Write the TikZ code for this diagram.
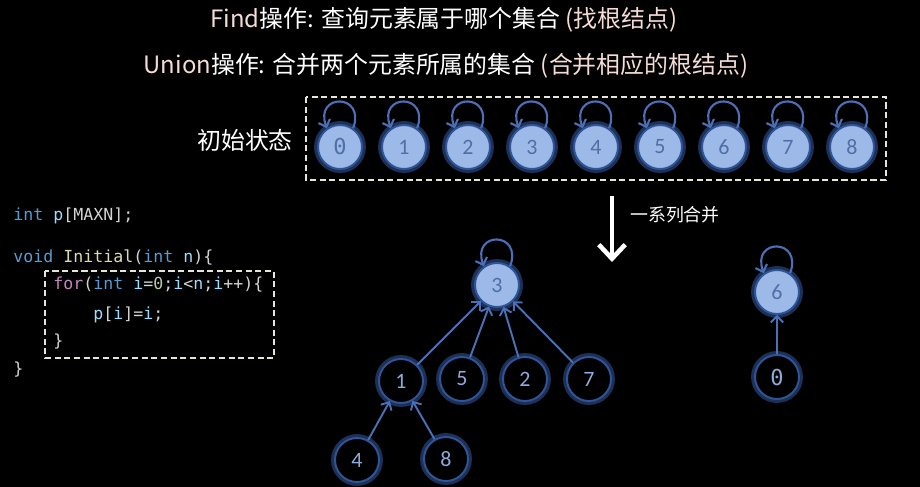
\documentclass[tikz,border=0pt]{standalone}
\usepackage{fontspec}
\setmainfont{Noto Sans CJK SC}
\newfontfamily\digitfont{Carlito}
\newfontfamily\codefont{DejaVu Sans Mono}
\usetikzlibrary{arrows.meta}

\definecolor{nodefill}{HTML}{9DB9E8}
\definecolor{nodeedge}{HTML}{2F5597}
\definecolor{glowblue}{HTML}{3F6BC4}
\definecolor{roottext}{HTML}{4F6FA6}
\definecolor{leaftext}{HTML}{8FAADC}
\definecolor{linkblue}{HTML}{4A70B8}
\definecolor{pinkish}{HTML}{F6DCD6}
\definecolor{boxcream}{HTML}{E6E6D8}
\definecolor{kwblue}{HTML}{569CD6}
\definecolor{varblue}{HTML}{9CDCFE}
\definecolor{fnyellow}{HTML}{DCDCAA}
\definecolor{ctlpink}{HTML}{C586C0}
\definecolor{numgreen}{HTML}{B5CEA8}
\definecolor{codegray}{HTML}{D4D4D4}

\newcommand\ckw[1]{\textcolor{kwblue}{#1}}
\newcommand\cvar[1]{\textcolor{varblue}{#1}}
\newcommand\cfn[1]{\textcolor{fnyellow}{#1}}
\newcommand\cctl[1]{\textcolor{ctlpink}{#1}}
\newcommand\cnum[1]{\textcolor{numgreen}{#1}}
\newcommand\dig[1]{\ifnum#1=0 {\codefont 0}\else #1\fi}

\tikzset{
	setnode/.style={circle, minimum size=0.88cm, inner sep=0pt, line width=1.1pt,
		draw=nodeedge, font=\digitfont\fontsize{12.5pt}{14pt}\selectfont,
		preaction={draw=glowblue, line width=4.5pt, opacity=0.45}},
	rootnode/.style={setnode, fill=nodefill, text=roottext},
	leafnode/.style={setnode, fill=black, text=leaftext},
	link/.style={->, draw=linkblue, line width=1.1pt},
	selfloop/.style={->, draw=linkblue, line width=1.2pt},
	dashbox/.style={draw=boxcream, line width=1.1pt, dash pattern=on 3.5pt off 2pt},
	codeline/.style={anchor=west, inner sep=0pt, text=codegray,
		font=\codefont\fontsize{9.45pt}{11pt}\selectfont},
}

\begin{document}
\begin{tikzpicture}[x=0.02cm, y=-0.02cm, >={Straight Barb[length=3.5pt,width=7pt]}]

	% background
	\fill[black] (0,0) rectangle (920,487);
	\useasboundingbox (0,0) rectangle (920,487);

	% titles
	\node[text=white, font=\fontsize{13.6pt}{16pt}\selectfont] (F) at (444,20)
	{\textcolor{pinkish}{Find}操作: 查询元素属于哪个集合 \textcolor{pinkish}{(找根结点)}};
	\node[text=white, font=\fontsize{13.6pt}{16pt}\selectfont] (U) at (446,66)
	{\textcolor{pinkish}{Union}操作: 合并两个元素所属的集合 \textcolor{pinkish}{(合并相应的根结点)}};

	% initial state
	\node[text=white, font=\fontsize{13.6pt}{16pt}\selectfont] (I) at (245,140) {初始状态};
	\draw[dashbox] (306,97) rectangle (886,180);
	\foreach \i in {0,...,8}{
		\node[rootnode] (N\i) at ({340+64*\i},147) {\dig{\i}};
		\draw[selfloop] (N\i.55) .. controls +(70:0.75cm) and +(110:0.75cm) .. (N\i.125);
	}

	% series of unions
	\coordinate (D1) at (612,196);
	\coordinate (D2) at (612,262);
	\draw[white, line width=2.6pt, -{Straight Barb[length=8pt,width=15pt]}] (D1) -- (D2);
	\node[text=white, font=\fontsize{10.2pt}{12pt}\selectfont] (L) at (675,215) {一系列合并};

	% code
	\node[codeline] (C1) at (13,216) {\ckw{int} \cvar{p}[MAXN];};
	\node[codeline] (C2) at (13,257) {\ckw{void} \cfn{Initial}(\ckw{int} \cvar{n})\{};
	\node[codeline] (C3) at (53,285) {\cctl{for}(\ckw{int} \cvar{i}=\cnum{0};\cvar{i}<\cvar{n};\cvar{i}++)\{};
	\node[codeline] (C4) at (93,315) {\cvar{p}[\cvar{i}]=\cvar{i};};
	\node[codeline] (C5) at (53,342) {\}};
	\node[codeline] (C6) at (13,370) {\}};
	\draw[dashbox] (45,271) rectangle (274,358);

	% first tree
	\node[rootnode] (A3) at (497,285) {3};
	\node[leafnode] (A1) at (401,381) {1};
	\node[leafnode] (A5) at (462,379) {5};
	\node[leafnode] (A2) at (525,379) {2};
	\node[leafnode] (A7) at (589,379) {7};
	\node[leafnode] (A4) at (357,460) {4};
	\node[leafnode] (A8) at (446,459) {8};
	\draw[selfloop] (A3.55) .. controls +(70:0.75cm) and +(110:0.75cm) .. (A3.125);
	\foreach \c in {A1,A5,A2,A7}
		\draw[link] (\c) -- (A3);
	\draw[link] (A4) -- (A1);
	\draw[link] (A8) -- (A1);

	% second tree
	\node[rootnode] (B6) at (777,292) {6};
	\node[leafnode] (B0) at (777,377) {\dig{0}};
	\draw[selfloop] (B6.55) .. controls +(70:0.75cm) and +(110:0.75cm) .. (B6.125);
	\draw[link] (B0) -- (B6);

\end{tikzpicture}
\end{document}
